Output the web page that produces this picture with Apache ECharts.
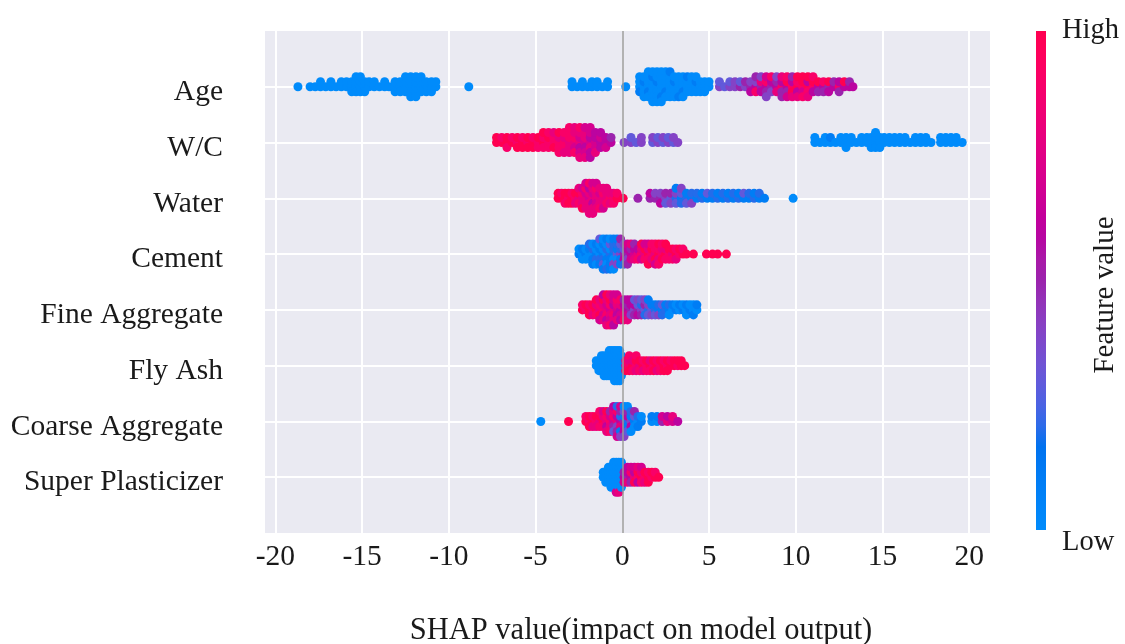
<!DOCTYPE html>
<html>
<head>
<meta charset="utf-8">
<script src="https://cdn.jsdelivr.net/npm/echarts@6/dist/echarts.min.js"></script>
<style>
html,body{margin:0;padding:0;background:#fff}
#chart{width:1125px;height:644px}
</style>
</head>
<body>
<div id="chart"></div>
<script>
// Features, ordered top to bottom by mean |SHAP|
const features = ['Age', 'W/C', 'Water', 'Cement', 'Fine Aggregate', 'Fly Ash', 'Coarse Aggregate', 'Super Plasticizer'];
const xTicks = [-20, -15, -10, -5, 0, 5, 10, 15, 20];

// Each entry: [SHAP value, [feature value of every sample at that SHAP value, 0 = low … 10 = high]]
const age = [
  [-18.7,[0]],
  [-18.0,[0]],[-17.7,[0]],[-17.4,[0,0]],[-17.1,[0]],[-16.8,[0,0]],[-16.5,[0]],[-16.2,[0,0]],[-15.9,[0,0]],
  [-15.6,[0,0,0]],[-15.35,[0,0,0,0]],[-15.1,[0,0,0,0]],[-14.85,[0,0,0]],
  [-14.6,[0,0]],[-14.3,[0,0]],[-14.0,[0]],[-13.7,[0,0]],[-13.45,[0]],
  [-13.1,[0,0,0]],[-12.8,[0,0,0]],[-12.5,[0,0,0,0]],[-12.2,[0,0,0,0,0]],[-11.9,[0,0,0,0,0]],[-11.6,[0,0,0,0]],[-11.3,[0,0,0]],[-11.0,[0,0,0]],[-10.75,[0,0]],
  [-8.85,[0]],
  [-2.9,[0,0]],[-2.6,[0]],[-2.3,[0,0]],[-2.0,[0]],[-1.75,[0,0]],[-1.45,[0,0]],[-1.15,[0]],[-0.85,[0,0]],
  [0.2,[0]],
  [1.0,[0,0,1,0]],[1.25,[0,1,0,0,0]],[1.5,[0,0,1,0,0,0]],[1.75,[0,0,0,1,0,0,0]],[2.0,[0,1,0,0,0,0,0]],[2.25,[0,0,0,0,1,0,0]],
  [2.5,[0,0,1,0,0,0]],[2.75,[0,0,0,0,0,1]],[3.0,[0,1,0,0,0]],[3.25,[0,0,0,0,1]],[3.5,[0,0,1,0,0]],[3.75,[0,0,0,1]],
  [4.0,[0,0,0,0]],[4.25,[0,1,0,0]],[4.5,[0,0,0]],[4.75,[0,0,0]],[5.0,[0,0]],
  [5.6,[4,3]],[5.9,[3]],[6.2,[4,3]],[6.5,[4,4]],[6.8,[5,3]],[7.1,[4,5]],[7.4,[5,4,6]],
  [7.7,[6,4,9,5]],[8.0,[5,8,6,4]],[8.3,[6,9,5,7,4]],[8.6,[5,6,4,9]],[8.9,[6,5,8,4]],[9.2,[9,6,5,8,5]],[9.5,[6,10,5,9,7]],[9.8,[9,6,10,5,8]],
  [10.1,[10,9,6,10,8]],[10.4,[9,10,7,10,9]],[10.7,[10,6,9,10,8]],[11.0,[9,10,6,9]],[11.3,[6,10,5]],
  [11.6,[6,9,5]],[11.9,[5,10,6]],[12.2,[6,5]],[12.5,[9,6,5]],[12.8,[6,10]],[13.1,[6,5]],[13.3,[6]]
];
const wc = [
  [-7.25,[10,10]],[-6.95,[10,9]],[-6.65,[10,10,9]],[-6.35,[10,9]],[-6.05,[9,10,10]],[-5.75,[10,9,10]],[-5.45,[9,10,10]],
  [-5.15,[10,9,10]],[-4.85,[9,10,9]],[-4.55,[10,9,9,10]],[-4.25,[9,10,9,9]],[-3.95,[9,9,10,8]],[-3.65,[9,8,9,10,9]],
  [-3.35,[9,8,9,9,8]],[-3.05,[8,9,8,9,8,9]],[-2.75,[8,9,7,8,9,8]],[-2.45,[8,7,6,8,7,9,8]],[-2.15,[7,8,6,8,7,7,8]],
  [-1.85,[7,6,8,7,6,7,6]],[-1.55,[7,6,7,6,8]],[-1.25,[6,7,6,6]],[-0.95,[6,6,7]],[-0.65,[6,5]],
  [0.1,[4]],[0.5,[4,3]],[0.8,[3]],[1.1,[4,4]],[1.75,[3,4]],[2.05,[4,3]],[2.35,[3,4]],[2.65,[4,3]],[2.95,[3,4]],[3.2,[4]],
  [11.1,[0,0]],[11.4,[0]],[11.7,[0,0]],[12.0,[0,1]],[12.3,[0]],[12.6,[0,0]],[12.9,[0,0,0]],[13.2,[0,0]],[13.5,[0]],
  [13.8,[0,0]],[14.1,[0,0]],[14.35,[0,0,0]],[14.6,[0,0,0,0]],[14.85,[0,0,0]],[15.1,[0,0]],[15.4,[0,0]],[15.7,[0,0]],
  [16.0,[0,0]],[16.3,[0,0]],[16.6,[0]],[16.9,[0,0]],[17.2,[0,0]],[17.5,[0,0]],[17.8,[0]],
  [18.35,[0,0]],[18.65,[0,0]],[18.95,[0,0]],[19.25,[0,0]],[19.6,[0]]
];
const water = [
  [-3.7,[10,10]],[-3.5,[10,9]],[-3.3,[10,10,9]],[-3.1,[9,10,10]],[-2.9,[10,9,10]],
  [-2.7,[9,10,8]],[-2.5,[8,10,9,8]],[-2.3,[8,9,8,7,10]],[-2.1,[8,7,8,9,8,7]],[-1.9,[7,8,8,6,8,9,8]],[-1.7,[8,7,6,8,8,7,8]],
  [-1.5,[8,8,7,9,8,7]],[-1.3,[8,7,8,8,9]],[-1.1,[8,9,8,8,7]],[-0.9,[8,8,9,8]],[-0.7,[9,8,8]],[-0.5,[9,8,9]],[-0.3,[10,9]],[0.05,[10]],
  [0.9,[5]],
  [1.6,[5,6]],[1.9,[5,4]],[2.2,[5,4,6]],[2.5,[4,5,3]],[2.8,[3,5,4]],[3.1,[2,4,3,1]],[3.4,[1,3,2,4]],[3.7,[2,1,3]],[4.0,[1,2,4]],
  [4.3,[1,2]],[4.6,[2,1]],[4.9,[1,3]],[5.2,[1,2]],[5.5,[2,1]],[5.8,[1,2]],[6.1,[2,1]],[6.4,[1,2]],[6.7,[2,1]],[7.0,[1,3]],
  [7.3,[1,2]],[7.6,[2,1]],[7.9,[1,2]],[8.2,[1]],
  [9.85,[0]]
];
const cement = [
  [-2.5,[1,0]],[-2.3,[0,1,0]],[-2.1,[1,0,0]],[-1.9,[0,1,0,2]],[-1.7,[0,2,1,0,1]],[-1.5,[1,0,2,1,0]],[-1.3,[0,1,2,0,1,3]],
  [-1.1,[1,0,2,1,3,0,1]],[-0.9,[0,2,1,0,0,1,2]],[-0.7,[2,0,1,3,1,0,1]],[-0.5,[1,2,0,2,4,1,0]],[-0.3,[3,1,0,2,4,1]],
  [-0.1,[4,2,1,3,1,5]],[0.1,[5,3,6,4,2]],[0.3,[5,6,4,7,5]],[0.5,[6,5,7,8]],[0.7,[7,6,8,5]],[0.9,[8,6,9]],
  [1.1,[9,8,7,10]],[1.3,[8,10,9,7]],[1.5,[10,8,9,7,10]],[1.7,[9,10,8,9]],[1.9,[8,9,10,9,7]],[2.1,[10,9,8,10,9]],
  [2.3,[9,8,10,9]],[2.5,[10,8,9,10]],[2.7,[9,10,9]],[2.9,[8,10,9]],[3.1,[10,9,8]],[3.3,[9,10]],[3.5,[10,9]],[3.7,[10]],
  [4.1,[10]],[4.85,[10]],[5.2,[10]],[5.5,[10]],[6.0,[10]]
];
const fineAggregate = [
  [-2.3,[10,9]],[-2.1,[9,10]],[-1.9,[10,9,10]],[-1.7,[9,10,8]],[-1.5,[10,8,9,10]],
  [-1.3,[8,9,10,8,7]],[-1.1,[9,8,7,10,8,6]],[-0.9,[8,7,9,8,6,10,8]],[-0.7,[7,9,8,10,7,8,9]],[-0.5,[8,6,9,7,8,7,6]],
  [-0.3,[7,8,6,9,8,7]],[-0.1,[6,8,7,9,6]],[0.1,[7,6,8,5,9]],[0.3,[6,5,7,6,8]],
  [0.5,[5,6,4,6]],[0.7,[4,6,5,3]],[0.9,[5,3,6,4]],[1.1,[4,2,5,3]],[1.3,[3,5,2,4]],[1.5,[2,4,3,1]],[1.7,[3,1,4]],
  [1.9,[2,1,3]],[2.1,[1,2,4]],[2.3,[1,3,2]],[2.5,[2,1]],[2.7,[1,2,0]],[2.9,[0,1]],[3.1,[1,0]],[3.3,[0,1]],[3.5,[1,0]],
  [3.7,[0,1,0]],[3.9,[1,0]],[4.1,[0,0,1]],[4.3,[0,1]]
];
const flyAsh = [
  [-1.5,[0,0]],[-1.35,[0,0,0]],[-1.2,[0,0,0,0]],[-1.05,[0,0,0,0,0]],[-0.9,[0,0,0,0,0]],[-0.75,[0,0,0,0,0,0]],
  [-0.6,[0,0,0,0,0,0]],[-0.45,[0,0,0,0,0,0,0]],[-0.3,[0,0,0,0,0,0,0]],[-0.15,[0,0,0,0,0,0,0]],[-0.05,[0,0,0,0,0]],
  [0.2,[8,9,10]],[0.4,[9,8,10,9]],[0.6,[10,8,9]],[0.8,[9,10,8,9]],[1.0,[8,10,9]],[1.2,[10,9,8]],[1.4,[9,10,9]],
  [1.6,[10,8,9]],[1.8,[9,10,10]],[2.0,[10,9,8]],[2.2,[9,10,9]],[2.4,[10,9,10]],[2.6,[9,10,10]],[2.8,[10,9]],
  [3.0,[10,10]],[3.2,[9,10]],[3.4,[10,10]],[3.6,[10]]
];
const coarseAggregate = [
  [-4.7,[0]],[-3.1,[10]],
  [-2.1,[10,9]],[-1.9,[9,10,10]],[-1.7,[10,9,8]],[-1.5,[9,10,8]],[-1.3,[8,10,9,9]],[-1.1,[10,8,9,7]],[-0.9,[8,9,6,10,8]],
  [-0.7,[9,7,8,5,9]],[-0.5,[7,9,5,8,3,6]],[-0.3,[8,6,4,9,5,2,7]],[-0.1,[6,2,8,5,1,7,4]],[0.1,[5,1,7,3,6,0,4]],
  [0.3,[2,6,1,5,3,0]],[0.5,[4,1,6,2,0]],[0.7,[1,3,0,5]],[0.9,[0,2,1]],[1.1,[1,0]],
  [1.7,[0,1]],[2.0,[0,1]],[2.3,[5,7]],[2.6,[8,6]],[2.9,[7,8]],[3.2,[6]]
];
const superPlasticizer = [
  [-1.1,[0,0]],[-0.95,[0,0,0]],[-0.8,[0,0,0,0]],[-0.65,[0,0,0,0,0]],[-0.5,[0,0,0,0,0,0]],
  [-0.35,[0,0,0,0,0,0,7]],[-0.2,[0,0,0,0,0,0,8]],[-0.05,[0,0,0,0,0,0]],
  [0.1,[6,5,7]],[0.3,[5,6,8,6]],[0.5,[6,9,5,7]],[0.7,[8,6,10,7]],[0.9,[9,10,6,8]],[1.1,[10,8,9,7]],
  [1.3,[9,10,8]],[1.5,[10,9,10]],[1.7,[9,10]],[1.9,[10,9]],[2.1,[10]]
];
const featureRows = [age, wc, water, cement, fineAggregate, flyAsh, coarseAggregate, superPlasticizer];

// SHAP's red_blue colour map: a path through CIE LCh from blue to red, darker in the middle
function redBlue(t) {
  const L = t < 0.5 ? 54 - 14 * (t / 0.5) : 40 + 14 * ((t - 0.5) / 0.5);
  const C = 70 + 20 * t;
  const h = 4.6588 + t * (0.35470565 + 2 * Math.PI - 4.6588);
  const a = C * Math.cos(h), b = C * Math.sin(h);
  const fy = (L + 16) / 116, fx = fy + a / 500, fz = fy - b / 200;
  const inv = v => (v * v * v > 0.008856 ? v * v * v : (v - 16 / 116) / 7.787);
  const X = 0.95047 * inv(fx), Y = inv(fy), Z = 1.08883 * inv(fz);
  const lin = [
    3.2404542 * X - 1.5371385 * Y - 0.4985314 * Z,
    -0.9692660 * X + 1.8760108 * Y + 0.0415560 * Z,
    0.0556434 * X - 0.2040259 * Y + 1.0572252 * Z
  ];
  const rgb = lin.map(v => {
    const g = v > 0.0031308 ? 1.055 * Math.pow(v, 1 / 2.4) - 0.055 : 12.92 * v;
    return Math.round(Math.max(0, Math.min(1, g)) * 255);
  });
  return 'rgb(' + rgb.join(',') + ')';
}
const cmapStops = [];
for (let i = 0; i <= 24; i++) cmapStops.push(redBlue(i / 24));

// Beeswarm layout: samples sharing a SHAP value are stacked alternately above and below the row
function swarm(entries, row) {
  let maxLayer = 0;
  entries.forEach(e => { maxLayer = Math.max(maxLayer, Math.ceil((e[1].length - 1) / 2)); });
  const step = 0.9 * 0.4 / (maxLayer + 1);
  const pts = [];
  entries.forEach(([v, fvs]) => {
    fvs.forEach((f, layer) => {
      const off = Math.ceil(layer / 2) * (layer % 2 ? 1 : -1);
      pts.push([v, row + off * step, f / 10]);
    });
  });
  return pts;
}
const nRows = features.length;
let points = [];
featureRows.forEach((entries, i) => { points = points.concat(swarm(entries, nRows - 1 - i)); });
const rowTicks = features.map((_, i) => i);

const font = "'Liberation Serif', 'Times New Roman', serif";
const textColor = '#1a1a1a';

const chart = echarts.init(document.getElementById('chart'), null, { renderer: 'canvas' });
chart.setOption({
  animation: false,
  backgroundColor: '#ffffff',
  grid: {
    left: 265, right: 135, top: 31, bottom: 111,
    show: true, backgroundColor: '#eaeaf2', borderWidth: 0
  },
  xAxis: {
    type: 'value', min: -20.6, max: 21.2,
    axisLine: { show: false },
    axisTick: { show: false, customValues: xTicks },
    axisLabel: {
      customValues: xTicks, margin: 9,
      fontFamily: font, fontSize: 29.5, color: textColor,
      formatter: v => String(v)
    },
    splitLine: { show: true, lineStyle: { color: '#ffffff', width: 2 } }
  },
  yAxis: {
    type: 'value', min: -1, max: nRows,
    axisLine: { show: false },
    axisTick: { show: false, customValues: rowTicks },
    axisLabel: {
      customValues: rowTicks, margin: 42,
      formatter: v => '{n|' + features[nRows - 1 - v] + '}',
      rich: {
        // feature names sit slightly below their row line
        n: { fontFamily: font, fontSize: 29.5, color: textColor, padding: [11, 0, 0, 0] }
      }
    },
    splitLine: { show: true, lineStyle: { color: '#ffffff', width: 2 } }
  },
  visualMap: {
    show: false, type: 'continuous', dimension: 2, min: 0, max: 1,
    seriesIndex: 1, inRange: { color: cmapStops }
  },
  series: [
    {
      type: 'scatter', data: [], z: 1, silent: true,
      markLine: {
        silent: true, symbol: 'none', label: { show: false },
        lineStyle: { color: '#999999', width: 1.5, type: 'solid' },
        data: [{ xAxis: 0 }]
      }
    },
    {
      type: 'scatter', z: 3, symbolSize: 9, data: points,
      itemStyle: { opacity: 1, borderWidth: 0 }
    }
  ],
  graphic: [
    {
      type: 'rect', shape: { x: 1036, y: 31, width: 10, height: 499 },
      style: {
        fill: new echarts.graphic.LinearGradient(0, 0, 0, 1,
          cmapStops.map((c, i) => ({ offset: 1 - i / (cmapStops.length - 1), color: c })).reverse())
      }
    },
    { type: 'text', x: 1062, y: 31, style: { text: 'High', font: '28.5px ' + font, fill: textColor, verticalAlign: 'middle' } },
    { type: 'text', x: 1062, y: 543, style: { text: 'Low', font: '28.5px ' + font, fill: textColor, verticalAlign: 'middle' } },
    {
      type: 'text', x: 1105, y: 295, rotation: Math.PI / 2,
      style: { text: 'Feature value', font: '29px ' + font, fill: textColor, align: 'center', verticalAlign: 'middle' }
    },
    {
      type: 'text', x: 641, y: 631,
      style: { text: 'SHAP value(impact on model output)', font: '30.5px ' + font, fill: textColor, align: 'center', verticalAlign: 'middle' }
    }
  ]
});
</script>
</body>
</html>
